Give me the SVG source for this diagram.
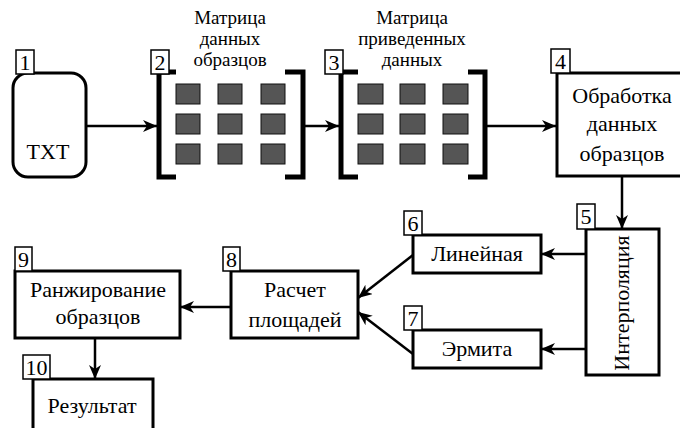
<svg xmlns="http://www.w3.org/2000/svg" width="680" height="428" viewBox="0 0 680 428">
<defs>
<marker id="arr" markerUnits="userSpaceOnUse" markerWidth="16" markerHeight="14" refX="14" refY="6" orient="auto">
<path d="M0,0 L14,6 L0,12 L4,6 z" fill="#000"/>
</marker>
<style>
.box{fill:#fff;stroke:#000;stroke-width:3}
.lbl{fill:#fff;stroke:#000;stroke-width:1.5}
.num,.t,.tt{font-family:"Liberation Serif","Times New Roman",serif;fill:#000;text-anchor:middle}
.num{font-size:22px}
.t{font-size:22px}
.tt{font-size:19px}
.sq{fill:#555;stroke:#111;stroke-width:1}
.br{fill:none;stroke:#000;stroke-width:5}
.con{fill:none;stroke:#000;stroke-width:2.5;marker-end:url(#arr)}
</style>
</defs>
<rect width="680" height="428" fill="#fff"/>

<g id="node1">
<rect class="box" x="13" y="73" width="73" height="104" rx="15" ry="15"/>
<rect class="lbl" x="16" y="50" width="18" height="24"/>
<text class="num" x="25" y="70">1</text>
<text class="t" x="48" y="159">TXT</text>
</g>

<g id="node2">
<path class="br" d="M176,72 H159 V177 H176"/>
<path class="br" d="M285,72 H303 V177 H285"/>
<rect class="sq" x="176" y="84" width="24" height="20"/>
<rect class="sq" x="218" y="84" width="24" height="20"/>
<rect class="sq" x="261" y="84" width="24" height="20"/>
<rect class="sq" x="176" y="114" width="24" height="20"/>
<rect class="sq" x="218" y="114" width="24" height="20"/>
<rect class="sq" x="261" y="114" width="24" height="20"/>
<rect class="sq" x="176" y="144" width="24" height="20"/>
<rect class="sq" x="218" y="144" width="24" height="20"/>
<rect class="sq" x="261" y="144" width="24" height="20"/>
<rect class="lbl" x="151" y="50" width="18" height="24"/>
<text class="num" x="160" y="70">2</text>
<text class="tt" x="230" y="24">Матрица</text>
<text class="tt" x="230" y="45">данных</text>
<text class="tt" x="230" y="66">образцов</text>
</g>

<g id="node3">
<path class="br" d="M358,72 H341 V177 H358"/>
<path class="br" d="M468,72 H485 V177 H468"/>
<rect class="sq" x="358" y="84" width="25" height="20"/>
<rect class="sq" x="400" y="84" width="25" height="20"/>
<rect class="sq" x="443" y="84" width="25" height="20"/>
<rect class="sq" x="358" y="114" width="25" height="20"/>
<rect class="sq" x="400" y="114" width="25" height="20"/>
<rect class="sq" x="443" y="114" width="25" height="20"/>
<rect class="sq" x="358" y="144" width="25" height="20"/>
<rect class="sq" x="400" y="144" width="25" height="20"/>
<rect class="sq" x="443" y="144" width="25" height="20"/>
<rect class="lbl" x="325" y="50" width="18" height="24"/>
<text class="num" x="334" y="70">3</text>
<text class="tt" x="412" y="24">Матрица</text>
<text class="tt" x="412" y="45">приведенных</text>
<text class="tt" x="412" y="66">данных</text>
</g>

<g id="node4">
<rect class="box" x="557" y="73" width="140" height="103"/>
<rect class="lbl" x="551" y="49" width="19" height="24"/>
<text class="num" x="560.5" y="69">4</text>
<text class="t" x="622" y="103">Обработка</text>
<text class="t" x="622" y="131">данных</text>
<text class="t" x="622" y="161">образцов</text>
</g>

<g id="node5">
<rect class="box" x="586" y="229" width="73" height="146"/>
<rect class="lbl" x="577" y="204" width="18" height="25"/>
<text class="num" x="586" y="224">5</text>
<text class="t" transform="translate(622,303) rotate(-90)" x="0" y="7">Интерполяция</text>
</g>

<g id="node6">
<rect class="box" x="413" y="235" width="128" height="38"/>
<rect class="lbl" x="404" y="211" width="18" height="24"/>
<text class="num" x="413" y="231">6</text>
<text class="t" x="477" y="261">Линейная</text>
</g>

<g id="node7">
<rect class="box" x="413" y="330" width="128" height="38"/>
<rect class="lbl" x="404" y="306" width="18" height="24"/>
<text class="num" x="413" y="326">7</text>
<text class="t" x="477" y="356">Эрмита</text>
</g>

<g id="node8">
<rect class="box" x="231" y="271" width="127" height="67"/>
<rect class="lbl" x="223" y="247" width="17" height="24"/>
<text class="num" x="231.5" y="267">8</text>
<text class="t" x="295" y="297">Расчет</text>
<text class="t" x="295" y="327">площадей</text>
</g>

<g id="node9">
<rect class="box" x="15" y="271" width="165" height="67"/>
<rect class="lbl" x="15" y="247" width="17" height="24"/>
<text class="num" x="23.5" y="267">9</text>
<text class="t" x="98" y="297">Ранжирование</text>
<text class="t" x="98" y="324">образцов</text>
</g>

<g id="node10">
<rect class="box" x="33" y="379" width="120" height="60"/>
<rect class="lbl" x="23" y="355" width="27" height="24"/>
<text class="num" x="36.5" y="375">10</text>
<text class="t" x="92" y="413">Результат</text>
</g>

<g id="connectors">
<line class="con" x1="86" y1="126" x2="157" y2="126"/>
<line class="con" x1="305" y1="126" x2="339" y2="126"/>
<line class="con" x1="487" y1="126" x2="556" y2="126"/>
<line class="con" x1="622" y1="176" x2="622" y2="229"/>
<line class="con" x1="586" y1="254" x2="541" y2="254"/>
<line class="con" x1="586" y1="349" x2="541" y2="349"/>
<line class="con" x1="413" y1="255" x2="358" y2="298"/>
<line class="con" x1="413" y1="354" x2="358" y2="312"/>
<line class="con" x1="231" y1="307" x2="180" y2="307"/>
<line class="con" x1="95" y1="338" x2="95" y2="379"/>
</g>
</svg>
